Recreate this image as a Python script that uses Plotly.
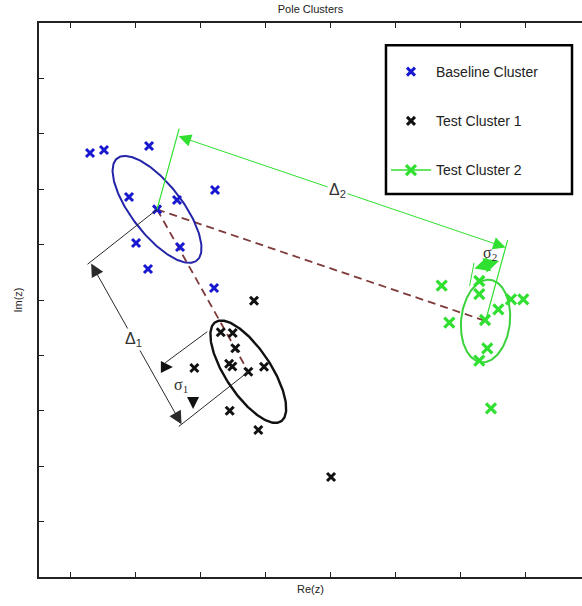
import numpy as np
import plotly.graph_objects as go

# ---- cluster members in the complex plane (Re, Im) ----
base_re = [1.300, 1.515, 2.208, 1.900, 2.638, 2.331, 3.223, 2.008, 2.685, 2.192, 3.208]
base_im = [7.653, 7.708, 7.780, 6.859, 6.805, 6.635, 6.986, 6.029, 5.957, 5.560, 5.217]

test1_re = [3.823, 3.311, 3.495, 3.535, 3.440, 3.490, 2.905, 3.977, 3.735, 3.449, 3.889, 5.008]
test1_im = [4.987, 4.417, 4.404, 4.128, 3.850, 3.800, 3.773, 3.796, 3.706, 3.002, 2.653, 1.805]

test2_re = [6.710, 7.289, 7.289, 7.777, 7.966, 7.582, 6.828, 7.377, 7.412, 7.289, 7.469]
test2_im = [5.258, 5.343, 5.108, 5.013, 5.013, 4.832, 4.590, 4.639, 4.128, 3.904, 3.045]

# ---- cluster centres ----
base_center = (2.331, 6.635)
test1_center = (3.735, 3.706)
test2_center = (7.385, 4.621)

# ---- 1-sigma covariance of each cluster (Re/Im units) ----
base_cov = [[0.468, -0.478], [-0.478, 0.932]]
test1_cov = [[0.340, -0.386], [-0.386, 0.854]]
test2_cov = [[0.144, 0.032], [0.032, 0.556]]

# ---- tick positions (labels hidden) ----
x_ticks = [1, 2, 3, 4, 5, 6, 7, 8]
y_ticks = [1, 2, 3, 4, 5, 6, 7, 8, 9]

BLUE = "#1818d0"
BLUE_RING = "#2424a8"
BLACK = "#111111"
GREEN = "#30e030"
GREEN_RING = "#3cd23c"
BROWN = "#7e3a3a"
DIM = "#2a2a2a"
LABEL_FONT = dict(family="Liberation Sans, Arial", size=16, color="#333")
SIGMA_FONT = dict(family="Liberation Serif, Times New Roman", size=16, color="#333")


def ellipse(center, cov, n=200):
    w, v = np.linalg.eigh(np.asarray(cov))
    t = np.linspace(0, 2 * np.pi, n)
    circ = np.vstack([np.cos(t), np.sin(t)])
    pts = v @ np.diag(np.sqrt(w)) @ circ
    return center[0] + pts[0], center[1] + pts[1]


def with_gaps(vals):
    out = []
    for v in vals:
        out += [v, None]
    return out


fig = go.Figure()

# dashed connectors between cluster centres
for c in (test2_center, test1_center):
    fig.add_trace(go.Scatter(
        x=[base_center[0], c[0]], y=[base_center[1], c[1]], mode="lines",
        line=dict(color=BROWN, width=1.8, dash="8px,5px"),
        showlegend=False, hoverinfo="skip"))

# sigma ellipses
for c, cov, col, w in ((base_center, base_cov, BLUE_RING, 2),
                       (test1_center, test1_cov, BLACK, 2.4),
                       (test2_center, test2_cov, GREEN_RING, 2)):
    ex, ey = ellipse(c, cov)
    fig.add_trace(go.Scatter(x=ex, y=ey, mode="lines", line=dict(color=col, width=w),
                             showlegend=False, hoverinfo="skip"))

# cluster markers
fig.add_trace(go.Scatter(
    x=base_re, y=base_im, mode="markers", name="Baseline Cluster", legendgroup="a",
    marker=dict(symbol="x-thin", size=8, line=dict(color=BLUE, width=3))))
fig.add_trace(go.Scatter(
    x=test1_re, y=test1_im, mode="markers", name="Test Cluster 1", legendgroup="b",
    marker=dict(symbol="x-thin", size=8, line=dict(color=BLACK, width=3))))
fig.add_trace(go.Scatter(
    x=with_gaps(test2_re), y=with_gaps(test2_im), mode="lines+markers",
    name="Test Cluster 2", legendgroup="c", connectgaps=False,
    line=dict(color=GREEN, width=1.5),
    marker=dict(symbol="x-thin", size=10, line=dict(color=GREEN, width=3.2))))

shapes = []
annotations = []


def seg(p, q, color, width=1.0):
    shapes.append(dict(type="line", xref="x", yref="y", x0=p[0], y0=p[1], x1=q[0], y1=q[1],
                       line=dict(color=color, width=width)))


def arrow(tip, tail, color, both=False, size=2.5):
    annotations.append(dict(
        x=tip[0], y=tip[1], ax=tail[0], ay=tail[1], xref="x", yref="y", axref="x", ayref="y",
        text="", showarrow=True, arrowhead=2, startarrowhead=2, arrowsize=size, startarrowsize=size,
        arrowwidth=1, arrowcolor=color, arrowside="end+start" if both else "end"))


def add(p, d, k=1.0):
    return (p[0] + k * d[0], p[1] + k * d[1])


# Delta_2: distance between baseline and test cluster 2
off2 = (0.34, 1.46)
seg(base_center, add(base_center, off2), GREEN, 1.2)
seg(test2_center, add(test2_center, off2), GREEN, 1.2)
arrow(add(test2_center, off2, 0.91), add(base_center, off2, 0.91), GREEN, both=True)
m2 = add(add(base_center, off2, 0.91), (test2_center[0] - base_center[0], test2_center[1] - base_center[1]), 0.5)
annotations.append(dict(x=m2[0] - 0.06, y=m2[1] + 0.02, xref="x", yref="y", showarrow=False,
                        text="\u0394<sub>2</sub>", bgcolor="white", font=LABEL_FONT))

# sigma_2: spread of test cluster 2
s2a = add(test2_center, (-0.246, 0.632))
s2b = add(test2_center, (-0.177, 1.047))
seg(s2a, s2b, GREEN, 1.0)
arrow(add(test2_center, (0.207, 1.083)), add(test2_center, (-0.193, 0.939)), GREEN, both=True, size=3)
annotations.append(dict(x=test2_center[0] + 0.07, y=test2_center[1] + 1.21, xref="x", yref="y",
                        showarrow=False, text="\u03c3<sub>2</sub>", font=SIGMA_FONT))

# Delta_1: distance between baseline and test cluster 1
off1 = (-1.07, -0.99)
seg(base_center, add(base_center, off1), DIM, 1.0)
seg(test1_center, add(test1_center, off1), DIM, 1.0)
arrow(add(test1_center, off1, 0.96), add(base_center, off1, 0.96), DIM, both=True, size=2.6)
m1 = add(add(base_center, off1, 0.96), (test1_center[0] - base_center[0], test1_center[1] - base_center[1]), 0.5)
annotations.append(dict(x=m1[0] - 0.04, y=m1[1] + 0.06, xref="x", yref="y", showarrow=False,
                        text="\u0394<sub>1</sub>", bgcolor="white", font=LABEL_FONT))

# sigma_1: spread of test cluster 1
seg(add(test1_center, (-0.631, 0.722)), add(test1_center, (-1.277, 0.162)), DIM, 1.0)
arrow(add(test1_center, (-1.160, 0.085)), add(test1_center, (-1.312, 0.085)), BLACK, size=2.4)
arrow(add(test1_center, (-0.850, -0.674)), add(test1_center, (-0.850, -0.475)), BLACK, size=2.4)
annotations.append(dict(x=test1_center[0] - 1.035, y=test1_center[1] - 0.258, xref="x", yref="y",
                        showarrow=False, text="\u03c3<sub>1</sub>", font=SIGMA_FONT))

# legend frame
shapes.append(dict(type="rect", xref="paper", yref="paper", x0=0.639, x1=0.9816, y0=0.6913, y1=0.960,
                   line=dict(color="black", width=2.5), fillcolor="white", layer="below"))

fig.update_layout(
    width=582, height=606,
    margin=dict(l=39, r=0, t=23, b=29),
    plot_bgcolor="white", paper_bgcolor="white",
    title=dict(text="Pole Clusters", x=0.5, xref="paper", y=1 - 9 / 606, yanchor="middle",
               font=dict(family="Liberation Sans, Arial", size=11, color="#222")),
    xaxis=dict(range=[0.515, 8.869], tickvals=x_ticks, showticklabels=False, ticks="inside",
               ticklen=5, tickcolor="#222", showline=True, linecolor="#222", linewidth=1.5,
               mirror="ticks", showgrid=False, zeroline=False,
               title=dict(text="Re(z)", standoff=8,
                          font=dict(family="Liberation Sans, Arial", size=11, color="#222"))),
    yaxis=dict(range=[0, 10], tickvals=y_ticks, showticklabels=False, ticks="inside",
               ticklen=5, tickcolor="#222", showline=True, linecolor="#222", linewidth=1.5,
               mirror=False, showgrid=False, zeroline=False,
               title=dict(text="Im(z)", standoff=12,
                          font=dict(family="Liberation Sans, Arial", size=11, color="#222"))),
    legend=dict(x=0.639, y=0.9404, xanchor="left", yanchor="top", bgcolor="rgba(0,0,0,0)",
                borderwidth=0, itemwidth=40, tracegroupgap=28,
                font=dict(family="Liberation Sans, Arial", size=14, color="#222")),
    shapes=shapes, annotations=annotations,
)

fig.write_html("out.html")
